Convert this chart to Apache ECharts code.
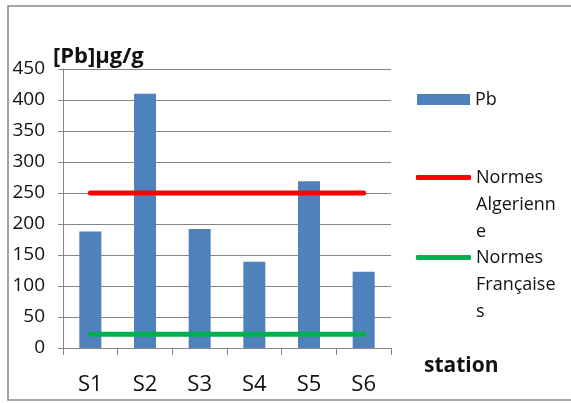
<!DOCTYPE html>
<html>
<head>
<meta charset="utf-8">
<script src="https://cdn.jsdelivr.net/npm/echarts@6/dist/echarts.min.js"></script>
<style>
  html, body { margin: 0; padding: 0; background: #fff; }
  #chart { width: 571px; height: 403px; }
</style>
</head>
<body>
<div id="chart"></div>
<script>
// Lead concentration per station, with the Algerian and French limits
const stations = ['S1', 'S2', 'S3', 'S4', 'S5', 'S6'];
const pbValues = [188, 410, 192, 139, 269, 123];
const normesAlgeriennes = [250, 250, 250, 250, 250, 250];
const normesFrancaises = [22, 22, 22, 22, 22, 22];
const yTicks = { min: 0, max: 450, step: 50 };

const seriesNames = ['Pb', 'Normes Algerienne', 'Normes Françaises'];
// Wrapped legend labels; the two leading blank lines keep the first
// text line level with the legend symbol (text is centred on the symbol)
const legendLabels = {
  'Pb': 'Pb',
  'Normes Algerienne': '\n\nNormes\nAlgerienn\ne',
  'Normes Françaises': '\n\nNormes\nFrançaise\ns'
};

const FONT = '"Open Sans", sans-serif';
const GRID_GREY = '#868686';

const chart = echarts.init(document.getElementById('chart'), null, { renderer: 'canvas' });

const legendText = {
  fontFamily: FONT, fontSize: 18, color: '#111', lineHeight: 27
};

chart.setOption({
  animation: false,
  backgroundColor: '#fff',
  graphic: [{
    type: 'rect',
    silent: true,
    shape: { x: 8, y: 6, width: 620, height: 394 },
    style: { fill: 'none', stroke: '#8a8a8a', lineWidth: 1.6 }
  }],
  title: [
    {
      text: '[Pb]µg/g', left: 48, top: 41,
      textStyle: { fontFamily: FONT, fontWeight: 'bold', fontSize: 22, color: '#111' }
    },
    {
      text: 'station', left: 419, top: 351,
      textStyle: { fontFamily: FONT, fontWeight: 'bold', fontSize: 21, color: '#111' }
    }
  ],
  legend: [
    {
      data: [seriesNames[0]], left: 417, top: 86, padding: 0,
      itemWidth: 53, itemHeight: 11, icon: 'rect',
      formatter: n => legendLabels[n], textStyle: legendText
    },
    {
      data: [seriesNames[1]], left: 416, top: 110, padding: 0,
      itemWidth: 55, itemHeight: 5, icon: 'roundRect',
      formatter: n => legendLabels[n], textStyle: legendText
    },
    {
      data: [seriesNames[2]], left: 416, top: 190, padding: 0,
      itemWidth: 55, itemHeight: 5, icon: 'roundRect',
      formatter: n => legendLabels[n], textStyle: legendText
    }
  ],
  grid: { left: 63, right: 180, top: 69, bottom: 55, containLabel: false },
  xAxis: {
    type: 'category',
    data: stations,
    boundaryGap: true,
    axisLine: { show: true, lineStyle: { color: GRID_GREY, width: 1 } },
    axisTick: { show: true, length: 7, alignWithLabel: false, lineStyle: { color: GRID_GREY } },
    axisLabel: { margin: 26, fontFamily: FONT, fontSize: 22, color: '#111' },
    splitLine: { show: false }
  },
  yAxis: {
    type: 'value',
    min: yTicks.min, max: yTicks.max, interval: yTicks.step,
    axisLine: { show: true, lineStyle: { color: GRID_GREY, width: 1 } },
    axisTick: { show: true, length: 5, lineStyle: { color: GRID_GREY } },
    axisLabel: { margin: 18, fontFamily: FONT, fontSize: 19, color: '#111' },
    splitLine: { show: true, lineStyle: { color: GRID_GREY, width: 1 } }
  },
  series: [
    {
      name: seriesNames[0], type: 'bar', data: pbValues, barWidth: 22,
      itemStyle: { color: '#4F81BD' },
      z: 2
    },
    {
      name: seriesNames[1], type: 'line', data: normesAlgeriennes,
      symbol: 'none', color: '#FF0000',
      lineStyle: { color: '#FF0000', width: 5, cap: 'round' }, z: 3
    },
    {
      name: seriesNames[2], type: 'line', data: normesFrancaises,
      symbol: 'none', color: '#00B050',
      lineStyle: { color: '#00B050', width: 5, cap: 'round' }, z: 3
    }
  ]
});
</script>
</body>
</html>
